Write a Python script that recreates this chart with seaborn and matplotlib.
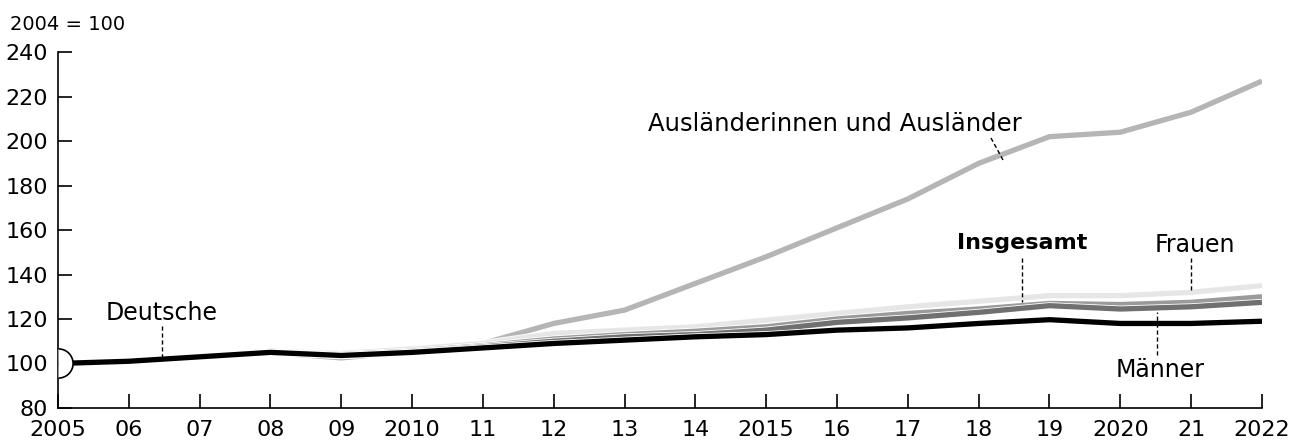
import numpy as np
import pandas as pd
import matplotlib
matplotlib.use("Agg")
import matplotlib.pyplot as plt
import matplotlib.patheffects as pe
from matplotlib.path import Path
import seaborn as sns

# Data (index, 2004 = 100)
years = list(range(2005, 2023))
year_labels = ["2005", "06", "07", "08", "09", "2010", "11", "12", "13", "14",
               "2015", "16", "17", "18", "19", "2020", "21", "2022"]

auslaender = [100, 101, 103, 105, 102.5, 105.5, 109, 118, 124, 136, 148, 161, 174, 190, 202, 204, 213, 227]
frauen     = [100, 101, 103, 105.5, 104.5, 106.5, 109, 113.5, 115, 116.5, 119.5, 122.5, 125.5, 128, 130.5, 130.5, 132, 135]
insgesamt  = [100, 101, 103, 105, 104, 105.5, 108, 111, 113, 114.5, 116.5, 120, 122.5, 124.5, 127, 126.5, 127.5, 130]
maenner    = [100, 101, 103, 105, 103.5, 105, 107.5, 110, 112, 113, 115, 118.5, 120.5, 123, 126, 124.5, 125.5, 127.5]
deutsche   = [100, 101, 103, 105, 103.6, 105, 107, 109, 110.5, 112, 113, 115, 116, 118, 119.7, 118, 118, 119]

groups = ["Ausländerinnen und Ausländer", "Frauen", "Insgesamt", "Männer", "Deutsche"]
colors = ["#b5b5b5", "#e6e6e6", "#9a9a9a", "#707070", "#000000"]

df = pd.DataFrame({
    "Jahr": years * 5,
    "Index": auslaender + frauen + insgesamt + maenner + deutsche,
    "Gruppe": sum([[g] * len(years) for g in groups], []),
})

sns.set_style("white")
plt.rcParams["font.family"] = ["DejaVu Sans"]
plt.rcParams["text.color"] = "black"
plt.rcParams["xtick.color"] = "black"
plt.rcParams["ytick.color"] = "black"

fig = plt.figure(figsize=(13.03, 4.42), dpi=100)
ax = fig.add_axes([0.0445, 0.077, 0.924, 0.805])

sns.lineplot(data=df, x="Jahr", y="Index", hue="Gruppe", hue_order=groups,
             palette=colors, linewidth=3.8, legend=False, ax=ax)
for line in ax.lines:
    line.set_solid_capstyle("butt")
    line.set_path_effects([pe.Stroke(linewidth=5.0, foreground="white"), pe.Normal()])

ax.set_xlim(2005, 2022)
ax.set_ylim(80, 240)
ax.set_xticks(years)
ax.set_xticklabels(year_labels)
ax.set_yticks(range(80, 241, 20))
ax.set_xlabel("")
ax.set_ylabel("")
ax.tick_params(axis="both", direction="in", length=10, width=1.2, labelsize=16,
               colors="black", bottom=True, left=True)
ax.tick_params(axis="x", pad=9)
ax.tick_params(axis="y", pad=7)
sns.despine(ax=ax, top=True, right=True)
for s in ["left", "bottom"]:
    ax.spines[s].set_linewidth(1.2)
    ax.spines[s].set_color("black")

# semicircle at the 100 baseline
arc = Path.arc(-90, 90)
ax.plot([2005], [100], marker=arc, markersize=21, markerfacecolor="white",
        markeredgecolor="black", markeredgewidth=1.2, clip_on=False, zorder=10,
        linestyle="none")

fig.text(0.008, 0.945, "2004 = 100", fontsize=14, ha="left", va="center")

def label(text, tx, ty, x0, y0, x1, y1, bold=False, size=17):
    # coordinates in pixels from top-left of the figure
    H = 442.0
    fig.text(tx / 1303.0, 1 - ty / H, text, fontsize=size, ha="center", va="center",
             fontweight="bold" if bold else "normal")
    fig.add_artist(plt.Line2D([x0 / 1303.0, x1 / 1303.0], [1 - y0 / H, 1 - y1 / H],
                              transform=fig.transFigure, color="black",
                              linewidth=1.0, linestyle=(0, (3, 2))))

label("Ausländerinnen und Ausländer", 835, 124, 991, 138, 1003, 160, size=17.5)
label("Deutsche", 162, 313, 162, 326, 162, 357)
label("Insgesamt", 1022, 243, 1022, 258, 1022, 302, bold=True, size=16)
label("Frauen", 1195, 245, 1191, 258, 1191, 290)
label("Männer", 1160, 370, 1157, 355, 1157, 312)

fig.savefig("out.png", dpi=100)
